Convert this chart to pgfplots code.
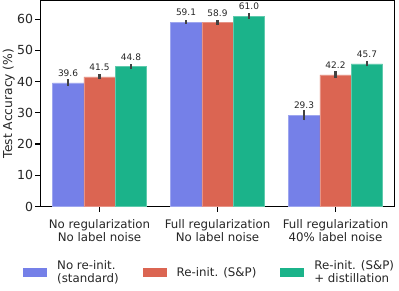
\documentclass[border=0pt]{standalone}
\usepackage{fontspec}
\setmainfont{DejaVu Sans}
\usepackage{pgfplots}
\pgfplotsset{compat=1.18}
\definecolor{cblue}{RGB}{117,128,232}
\definecolor{cred}{RGB}{219,101,82}
\definecolor{cgreen}{RGB}{27,179,138}
\definecolor{errc}{RGB}{66,66,66}
\definecolor{txt}{RGB}{38,38,38}
\begin{document}
\begin{tikzpicture}
\path[use as bounding box] (-40.5pt,-83.5pt) rectangle (358.5pt,206.5pt);
\begin{axis}[
  at={(0,0)}, anchor=south west,
  scale only axis, width=354pt, height=206pt,
  xmin=-0.5, xmax=2.5, ymin=0, ymax=66,
  ybar=0pt, bar width=0.26667,
  axis line style={line width=1.25pt, black},
  tick style={line width=1.25pt, black},
  major tick length=5pt, tick align=outside, tick pos=left,
  ytick={0,10,...,60},
  xtick={0,1,2},
  xticklabels={{No regularization\\No label noise},{Full regularization\\No label noise},{Full regularization\\40\% label noise}},
  xticklabel style={align=center, font=\fontsize{11.8}{13.5}\selectfont, text=txt, yshift=-4pt},
  yticklabel style={font=\fontsize{12.5}{14}\selectfont, text=txt, xshift=1pt},
  /pgf/number format/assume math mode=true,
  ylabel={Test Accuracy (\%)},
  ylabel style={font=\fontsize{12.3}{14}\selectfont, text=txt, at={(axis description cs:-0.1073,0.5)}, anchor=north, inner sep=0pt},
  error bars/y dir=both, error bars/y explicit, error bars/error mark=none,
  error bars/error bar style={line width=2.7pt, errc},
  nodes near coords={\pgfmathprintnumber[fixed,fixed zerofill,precision=1,assume math mode=true]{\pgfplotspointmeta}},
  every node near coord/.append style={font=\fontsize{9}{10}\selectfont, text=txt, anchor=south, inner sep=0pt, yshift=6pt},
  legend columns=3,
  legend image code/.code={\path[#1, draw=none] (0pt,-4.5pt) rectangle (24pt,4.5pt);},
  legend style={at={(0,0)}, anchor=west, xshift=-17.5pt, yshift=-66pt, draw=none, fill=none, inner sep=0pt,
    font=\fontsize{11.8}{13.5}\selectfont, nodes={align=left, inner sep=0pt, text=txt},
    /tikz/every odd column/.append style={column sep=10pt},
    /tikz/every even column/.append style={column sep=24pt}},
]
\addplot[fill=cblue, draw=cblue!70!white, line width=0.5pt] coordinates {(0,39.6) +- (0,1.1) (1,59.1) +- (0,0.6) (2,29.3) +- (0,1.7)};
\addplot[fill=cred, draw=cred!70!white, line width=0.5pt] coordinates {(0,41.5) +- (0,0.8) (1,58.9) +- (0,0.8) (2,42.2) +- (0,1.1)};
\addplot[fill=cgreen, draw=cgreen!70!white, line width=0.5pt] coordinates {(0,44.8) +- (0,0.8) (1,61.0) +- (0,0.9) (2,45.7) +- (0,0.8)};
\legend{{No re-init.\\(standard)},{Re-init. (S\&P)},{Re-init. (S\&P)\\+ distillation}}
\end{axis}
\end{tikzpicture}
\end{document}
